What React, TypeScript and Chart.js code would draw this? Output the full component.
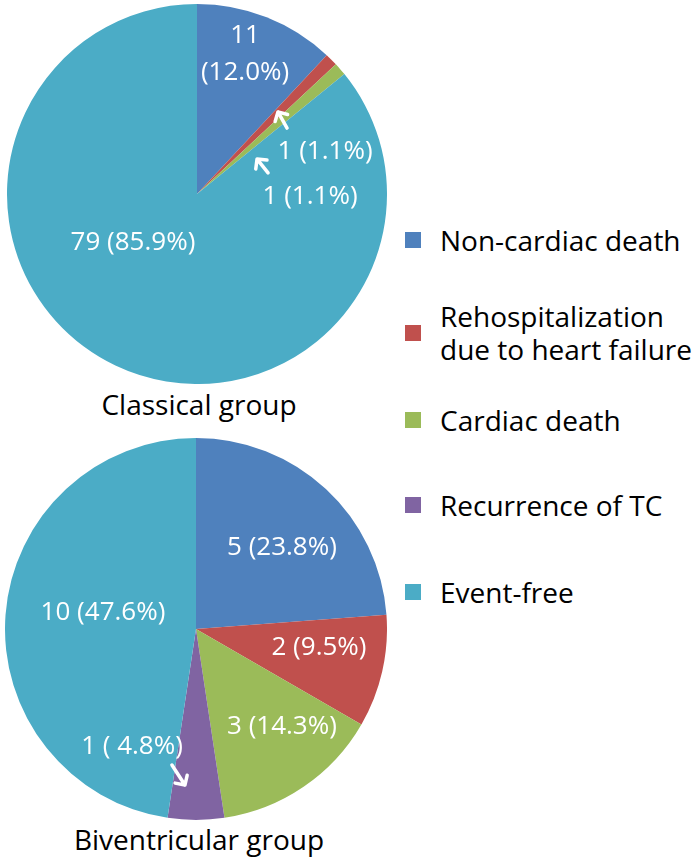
import React, { useEffect, useRef } from "react";
import { Chart, registerables } from "chart.js";

Chart.register(...registerables);

const categories = [
  "Non-cardiac death",
  "Rehospitalization due to heart failure",
  "Cardiac death",
  "Recurrence of TC",
  "Event-free",
];
const legendLines = [
  ["Non-cardiac death"],
  ["Rehospitalization", "due to heart failure"],
  ["Cardiac death"],
  ["Recurrence of TC"],
  ["Event-free"],
];
const colors = ["#4F81BD", "#C0504D", "#9BBB59", "#8064A2", "#4BACC6"];
const classicalValues = [11, 1, 1, 0, 79];
const biventricularValues = [5, 2, 3, 1, 10];
const groupTitles = ["Classical group", "Biventricular group"];

const FONT = "'Open Sans', 'Noto Sans', sans-serif";

type LabelPos = { dx: number; dy: number; split?: boolean; pad?: boolean } | null;
type Arrow = { tail: [number, number]; head: [number, number] };

const classicalLabelPos: LabelPos[] = [
  { dx: 0.253, dy: -0.739, split: true },
  { dx: 0.674, dy: -0.221 },
  { dx: 0.595, dy: 0.016 },
  null,
  { dx: -0.337, dy: 0.258 },
];
const classicalArrows: Arrow[] = [
  { tail: [0.474, -0.347], head: [0.426, -0.432] },
  { tail: [0.374, -0.111], head: [0.316, -0.184] },
];
const bivLabelPos: LabelPos[] = [
  { dx: 0.45, dy: -0.424 },
  { dx: 0.644, dy: 0.099 },
  { dx: 0.45, dy: 0.513 },
  { dx: -0.335, dy: 0.618, pad: true },
  { dx: -0.487, dy: -0.084 },
];
const bivArrows: Arrow[] = [{ tail: [-0.126, 0.712], head: [-0.058, 0.817] }];

function makeLabelPlugin(pos: LabelPos[], arrows: Arrow[]) {
  return {
    id: "sliceLabels",
    afterDatasetsDraw(chart: any) {
      const ctx = chart.ctx as CanvasRenderingContext2D;
      const meta = chart.getDatasetMeta(0);
      const data = chart.data.datasets[0].data as number[];
      const total = data.reduce((a, b) => a + b, 0);
      const arc0 = meta.data[0] as any;
      const cx = arc0.x;
      const cy = arc0.y;
      const r = arc0.outerRadius;
      ctx.save();
      ctx.fillStyle = "#ffffff";
      ctx.font = `26px ${FONT}`;
      ctx.textAlign = "center";
      ctx.textBaseline = "middle";
      data.forEach((v, i) => {
        const p = pos[i];
        if (!p || v === 0) return;
        let pct = ((v / total) * 100).toFixed(1);
        if (p.pad) pct = " " + pct;
        const x = cx + p.dx * r;
        const y = cy + p.dy * r;
        if (p.split) {
          ctx.fillText(`${v}`, x, y - 18);
          ctx.fillText(`(${pct}%)`, x, y + 19);
        } else {
          ctx.fillText(`${v} (${pct}%)`, x, y);
        }
      });
      ctx.strokeStyle = "#ffffff";
      ctx.lineWidth = 3.5;
      ctx.lineCap = "round";
      ctx.lineJoin = "round";
      arrows.forEach((a) => {
        const tx = cx + a.tail[0] * r;
        const ty = cy + a.tail[1] * r;
        const hx = cx + a.head[0] * r;
        const hy = cy + a.head[1] * r;
        const ang = Math.atan2(hy - ty, hx - tx);
        const L = 10;
        ctx.beginPath();
        ctx.moveTo(tx, ty);
        ctx.lineTo(hx, hy);
        ctx.moveTo(hx - L * Math.cos(ang - 0.8), hy - L * Math.sin(ang - 0.8));
        ctx.lineTo(hx, hy);
        ctx.lineTo(hx - L * Math.cos(ang + 0.8), hy - L * Math.sin(ang + 0.8));
        ctx.stroke();
      });
      ctx.restore();
    },
  };
}

function PieChart(props: {
  values: number[];
  pos: LabelPos[];
  arrows: Arrow[];
  left: number;
  top: number;
  size: number;
}) {
  const ref = useRef<HTMLCanvasElement>(null);
  useEffect(() => {
    if (!ref.current) return;
    const chart = new Chart(ref.current, {
      type: "pie",
      data: {
        labels: categories,
        datasets: [
          {
            data: props.values,
            backgroundColor: colors,
            borderWidth: 0,
          },
        ],
      },
      options: {
        responsive: false,
        animation: false,
        layout: { padding: 0 },
        plugins: {
          legend: { display: false },
          tooltip: { enabled: false },
        },
      },
      plugins: [makeLabelPlugin(props.pos, props.arrows)],
    });
    return () => chart.destroy();
  }, []);
  return (
    <canvas
      ref={ref}
      width={props.size}
      height={props.size}
      style={{
        position: "absolute",
        left: props.left,
        top: props.top,
        width: props.size,
        height: props.size,
      }}
    />
  );
}

const legendCenters = [240, 333, 420, 505, 592];

export default function App() {
  return (
    <div
      style={{
        position: "absolute",
        left: 0,
        top: 0,
        width: 700,
        height: 865,
        background: "#ffffff",
        fontFamily: FONT,
        color: "#000",
        overflow: "hidden",
      }}
    >
      <PieChart values={classicalValues} pos={classicalLabelPos} arrows={classicalArrows} left={7} top={4} size={380} />
      <PieChart values={biventricularValues} pos={bivLabelPos} arrows={bivArrows} left={5} top={438} size={382} />
      <div
        style={{
          position: "absolute",
          left: 0,
          width: 398,
          top: 390,
          textAlign: "center",
          fontSize: 28,
          lineHeight: "28px",
          whiteSpace: "nowrap",
        }}
      >
        {groupTitles[0]}
      </div>
      <div
        style={{
          position: "absolute",
          left: 0,
          width: 398,
          top: 825,
          textAlign: "center",
          fontSize: 28,
          lineHeight: "28px",
          whiteSpace: "nowrap",
        }}
      >
        {groupTitles[1]}
      </div>
      {legendLines.map((lines, i) => {
        const h = lines.length * 33;
        return (
          <div
            key={i}
            style={{
              position: "absolute",
              left: 405,
              top: legendCenters[i] - h / 2,
              height: h,
              display: "flex",
              alignItems: "center",
            }}
          >
            <div style={{ width: 16, height: 16, background: colors[i], marginRight: 19, flex: "none" }} />
            <div style={{ fontSize: 28, lineHeight: "33px", whiteSpace: "nowrap" }}>
              {lines.map((l, j) => (
                <div key={j}>{l}</div>
              ))}
            </div>
          </div>
        );
      })}
    </div>
  );
}
